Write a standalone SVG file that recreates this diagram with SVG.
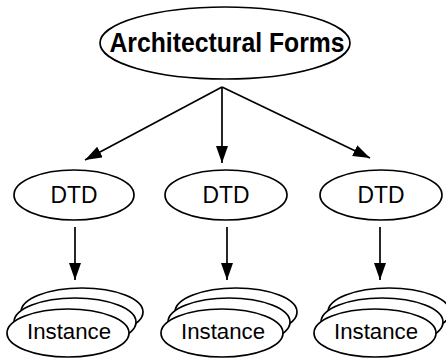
<svg xmlns="http://www.w3.org/2000/svg" width="446" height="359" viewBox="0 0 446 359">
<style>
.node{fill:#fff;stroke:#000;stroke-width:1.7}
.lbl{font-family:"Liberation Sans",Arial,sans-serif;fill:#000;text-anchor:middle}
.conn{stroke:#000;stroke-width:1.7;fill:none}
</style>
<defs>
<marker id="ah" markerUnits="userSpaceOnUse" markerWidth="17" markerHeight="12" viewBox="0 0 17 12" refX="17" refY="6" orient="auto">
<path d="M0,0 L17,6 L0,12 z" fill="#000"/>
</marker>
</defs>
<rect width="446" height="359" fill="#fff"/>
<g id="arch">
<ellipse class="node" cx="225" cy="43" rx="125" ry="36"/>
<text class="lbl" transform="translate(227,52) scale(1,1.13)" font-size="25" font-weight="bold" textLength="235" lengthAdjust="spacingAndGlyphs">Architectural Forms</text>
</g>
<g id="dtd1">
<ellipse class="node" cx="74" cy="195" rx="60" ry="25"/>
<text class="lbl" x="74" y="202.5" font-size="23" textLength="47" lengthAdjust="spacingAndGlyphs">DTD</text>
</g>
<g id="dtd2">
<ellipse class="node" cx="226" cy="195" rx="61" ry="25"/>
<text class="lbl" x="226" y="202.5" font-size="23" textLength="47" lengthAdjust="spacingAndGlyphs">DTD</text>
</g>
<g id="dtd3">
<ellipse class="node" cx="381" cy="195" rx="61" ry="25"/>
<text class="lbl" x="381" y="202.5" font-size="23" textLength="47" lengthAdjust="spacingAndGlyphs">DTD</text>
</g>
<g id="inst1">
<ellipse class="node" cx="82" cy="312" rx="61" ry="24"/>
<ellipse class="node" cx="75" cy="322" rx="61" ry="24"/>
<ellipse class="node" cx="68" cy="333" rx="61" ry="24"/>
<text class="lbl" x="69" y="339" font-size="22" textLength="84" lengthAdjust="spacingAndGlyphs">Instance</text>
</g>
<g id="inst2">
<ellipse class="node" cx="236" cy="312" rx="61" ry="24"/>
<ellipse class="node" cx="229" cy="322" rx="61" ry="24"/>
<ellipse class="node" cx="222" cy="333" rx="61" ry="24"/>
<text class="lbl" x="223" y="339" font-size="22" textLength="84" lengthAdjust="spacingAndGlyphs">Instance</text>
</g>
<g id="inst3">
<ellipse class="node" cx="389" cy="312" rx="61" ry="24"/>
<ellipse class="node" cx="382" cy="322" rx="61" ry="24"/>
<ellipse class="node" cx="375" cy="333" rx="61" ry="24"/>
<text class="lbl" x="376" y="339" font-size="22" textLength="84" lengthAdjust="spacingAndGlyphs">Instance</text>
</g>
<g id="connectors">
<line class="conn" x1="222" y1="87" x2="85" y2="160" marker-end="url(#ah)"/>
<line class="conn" x1="222" y1="87" x2="222" y2="163" marker-end="url(#ah)"/>
<line class="conn" x1="222" y1="87" x2="370" y2="158" marker-end="url(#ah)"/>
<line class="conn" x1="75" y1="227" x2="75" y2="280" marker-end="url(#ah)"/>
<line class="conn" x1="227" y1="227" x2="227" y2="280" marker-end="url(#ah)"/>
<line class="conn" x1="380" y1="227" x2="380" y2="280" marker-end="url(#ah)"/>
</g>
</svg>
